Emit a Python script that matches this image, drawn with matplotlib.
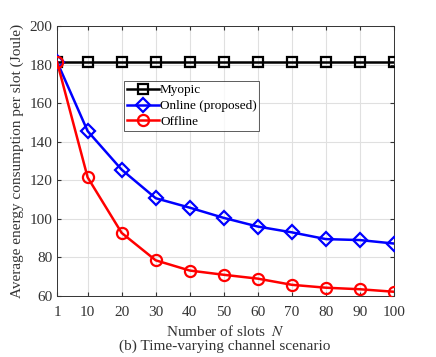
import matplotlib
matplotlib.use("Agg")
import matplotlib.pyplot as plt
import numpy as np

plt.rcParams['font.family'] = ['Liberation Serif', 'DejaVu Serif']
plt.rcParams['mathtext.fontset'] = 'stix'

slots   = [1, 10, 20, 30, 40, 50, 60, 70, 80, 90, 100]
myopic  = [181.5] * 11
online  = [181.5, 145.5, 125.5, 110.7, 105.8, 100.5, 96.0, 93.0, 89.5, 89.0, 87.2]
offline = [181.5, 121.5, 92.7, 78.5, 73.2, 71.0, 69.0, 65.8, 64.3, 63.5, 62.2]

fig = plt.figure(figsize = (4.36, 3.57), dpi = 100)
ax = fig.add_axes([57/436, 61/357, 337/436, 270/357])

ax.plot(slots, myopic, color = 'black', lw = 1.8, marker = 's', ms = 7, mfc = 'none', mew = 1.6, label = 'Myopic', zorder = 3)
ax.plot(slots, online, color = 'blue', lw = 1.8, marker = 'D', ms = 7, mfc = 'none', mew = 1.6, label = 'Online (proposed)', zorder = 4)
ax.plot(slots, offline, color = 'red', lw = 1.8, marker = 'o', ms = 8, mfc = 'none', mew = 1.6, label = 'Offline', zorder = 5)

ax.set_xlim(1, 100)
ax.set_ylim(60, 200)
ax.set_xticks(slots)
ax.set_yticks(np.arange(60, 201, 20))
ax.grid(True, color = '#e0e0e0', lw = 0.8)
ax.set_axisbelow(True)
ax.tick_params(direction = 'in', top = True, right = True, labelsize = 11, colors = '#333333', length = 3)
ax.tick_params(axis = 'x', pad = 7)
for sp in ax.spines.values():
    sp.set_color('#333333')
    sp.set_linewidth(0.7)

ax.set_ylabel('Average energy consumption per slot (Joule)', fontsize = 11, color = '#333333')
ax.set_xlabel('Number of slots  $N$', fontsize = 11, color = '#333333', labelpad = 4)
fig.text(0.5 + 7/436, 7/357, '(b) Time-varying channel scenario', ha = 'center', fontsize = 11, color = '#333333')

leg = ax.legend(loc = 'upper left', bbox_to_anchor = (0.2, 0.795), fontsize = 9.5, frameon = True, fancybox = False,
                edgecolor = '#333333', borderpad = 0.2, handlelength = 2.4, handletextpad = 0.1, labelspacing = 0.28, borderaxespad = 0)
leg.get_frame().set_linewidth(0.7)

fig.savefig('out.png', dpi = 100)
